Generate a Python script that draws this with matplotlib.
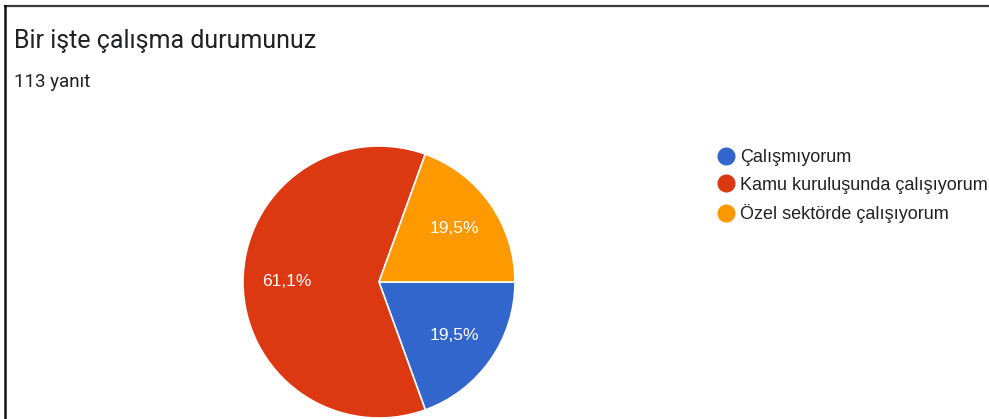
import matplotlib
matplotlib.use("Agg")
import matplotlib.pyplot as plt
from matplotlib.lines import Line2D

# data (113 responses)
categories = ["Çalışmıyorum", "Kamu kuruluşunda çalışıyorum", "Özel sektörde çalışıyorum"]
counts = [22, 69, 22]
colors = ["#3366cc", "#dc3912", "#ff9900"]
title = "Bir işte çalışma durumunuz"
subtitle = "113 yanıt"

W, H = 989, 419
fig = plt.figure(figsize=(W / 100, H / 100), dpi=100)
fig.patch.set_facecolor("white")

# frame lines of the screenshot (top and left)
fig.add_artist(Line2D([5 / W, 1], [1 - 6 / H, 1 - 6 / H], color="#3c3c3c", lw=1.6))
fig.add_artist(Line2D([5 / W, 5 / W], [0, 1 - 6 / H], color="#111111", lw=1.8))

fig.text(14 / W, 1 - 41 / H, title, fontsize=18, family="Roboto", color="#202124", va="center")
fig.text(14 / W, 1 - 82 / H, subtitle, fontsize=13.5, family="Roboto", color="#202124", va="center")

# pie: centre (379, 282) px, radius ~136 px
r = 136
ax = fig.add_axes([(379 - r) / W, (H - 282 - r) / H, 2 * r / W, 2 * r / H])
wedges, _, autotexts = ax.pie(
    counts, colors=colors, startangle=0, counterclock=False,
    autopct=lambda p: f"{p:.1f}".replace(".", ",") + "%",
    pctdistance=0.68, radius=1,
    wedgeprops=dict(edgecolor="white", linewidth=1.2),
    textprops=dict(color="white", fontsize=12.5, family="Liberation Sans"),
)
ax.set_xlim(-1, 1)
ax.set_ylim(-1, 1)
ax.axis("off")

handles = [Line2D([], [], marker="o", ls="", markersize=12, markerfacecolor=c,
                  markeredgecolor=c) for c in colors]
leg = fig.legend(handles, categories, loc="upper left",
                 bbox_to_anchor=(708 / W, 1 - 140 / H), frameon=False,
                 handlelength=1.0, handletextpad=0.3, labelspacing=0.58,
                 borderpad=0, prop=dict(family="Liberation Sans", size=13))
for t in leg.get_texts():
    t.set_color("#222222")

fig.savefig("out.png", dpi=100, facecolor="white")
